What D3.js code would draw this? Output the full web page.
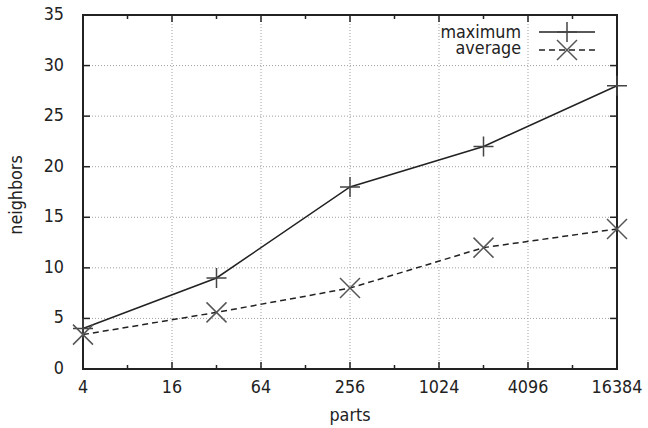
<!DOCTYPE html>
<html>
<head>
<meta charset="utf-8">
<script src="https://cdn.jsdelivr.net/npm/d3@7"></script>
<style>
  body { margin: 0; background: #fff; }
  text { font-family: "DejaVu Sans", sans-serif; font-size: 16px; fill: #222; }
</style>
</head>
<body>
<svg width="648" height="428"></svg>
<script>
// data
const parts = [4, 32, 256, 2048, 16384];
const maximum = [4, 9, 18, 22, 28];
const average = [3.4, 5.6, 8.0, 12.0, 13.85];
const xTicks = [4, 16, 64, 256, 1024, 4096, 16384];
const xMinor = [8, 32, 128, 512, 2048, 8192];
const yTicks = [0, 5, 10, 15, 20, 25, 30, 35];

const pLeft = 83, pRight = 617, pTop = 15, pBottom = 369;
const stretch = 1.14; // the reference glyphs are a bit taller than wide
const svg = d3.select("svg");

const x = d3.scaleLog().base(2).domain([4, 16384]).range([pLeft, pRight]);
const y = d3.scaleLinear().domain([0, 35]).range([pBottom, pTop]);

function label(g, tx, ty, str, anchor, rot) {
  return g.append("text")
    .attr("transform", `translate(${tx},${ty})` + (rot ? ` rotate(${rot})` : "") + ` scale(1,${stretch})`)
    .attr("text-anchor", anchor)
    .text(str);
}

// grid
const grid = svg.append("g")
  .attr("stroke", "#a0a0a0")
  .attr("stroke-dasharray", "1,2");
grid.selectAll("line.gx")
  .data(xTicks.slice(1, -1))
  .enter().append("line")
  .attr("x1", d => x(d)).attr("x2", d => x(d))
  .attr("y1", pTop).attr("y2", pBottom);
grid.selectAll("line.gy")
  .data(yTicks.slice(1, -1))
  .enter().append("line")
  .attr("y1", d => y(d)).attr("y2", d => y(d))
  .attr("x1", pLeft).attr("x2", pRight);

// tick marks, mirrored on all sides
const ticks = svg.append("g").attr("stroke", "#222").attr("stroke-width", 1.5);
xTicks.forEach(d => {
  ticks.append("line").attr("x1", x(d)).attr("x2", x(d)).attr("y1", pBottom).attr("y2", pBottom - 7);
  ticks.append("line").attr("x1", x(d)).attr("x2", x(d)).attr("y1", pTop).attr("y2", pTop + 7);
});
xMinor.forEach(d => {
  ticks.append("line").attr("x1", x(d)).attr("x2", x(d)).attr("y1", pBottom).attr("y2", pBottom - 4);
  ticks.append("line").attr("x1", x(d)).attr("x2", x(d)).attr("y1", pTop).attr("y2", pTop + 4);
});
yTicks.forEach(d => {
  ticks.append("line").attr("x1", pLeft).attr("x2", pLeft + 7).attr("y1", y(d)).attr("y2", y(d));
  ticks.append("line").attr("x1", pRight).attr("x2", pRight - 7).attr("y1", y(d)).attr("y2", y(d));
});

// border
svg.append("rect")
  .attr("x", pLeft).attr("y", pTop)
  .attr("width", pRight - pLeft).attr("height", pBottom - pTop)
  .attr("fill", "none").attr("stroke", "#222").attr("stroke-width", 2);

// tick labels
const labels = svg.append("g");
xTicks.forEach(d => label(labels, x(d), pBottom + 24, d, "middle"));
yTicks.forEach(d => label(labels, 64, y(d) + 5, d, "end"));

label(svg, (pLeft + pRight) / 2, 421, "parts", "middle");
label(svg, 22, 195, "neighbors", "middle", -90);

// lines
const line = d3.line().x((d, i) => x(parts[i])).y(d => y(d));
svg.append("path")
  .attr("d", line(maximum))
  .attr("fill", "none").attr("stroke", "#222").attr("stroke-width", 1.5);
svg.append("path")
  .attr("d", line(average))
  .attr("fill", "none").attr("stroke", "#222").attr("stroke-width", 1.5)
  .attr("stroke-dasharray", "6,4");

// markers
const m = 10;
function plus(g, cx, cy) {
  g.append("path")
    .attr("d", `M${cx - m},${cy}H${cx + m}M${cx},${cy - m}V${cy + m}`)
    .attr("stroke", "#444").attr("stroke-width", 1.5).attr("fill", "none");
}
function cross(g, cx, cy) {
  g.append("path")
    .attr("d", `M${cx - m},${cy - m}L${cx + m},${cy + m}M${cx - m},${cy + m}L${cx + m},${cy - m}`)
    .attr("stroke", "#555").attr("stroke-width", 1.5).attr("fill", "none");
}
const marks = svg.append("g");
maximum.forEach((d, i) => plus(marks, x(parts[i]), y(d)));
average.forEach((d, i) => cross(marks, x(parts[i]), y(d)));

// legend
const lg = svg.append("g");
label(lg, 521, 38, "maximum", "end");
label(lg, 521, 54, "average", "end");
lg.append("line").attr("x1", 539).attr("x2", 595).attr("y1", 32).attr("y2", 32)
  .attr("stroke", "#222").attr("stroke-width", 1.5);
lg.append("line").attr("x1", 539).attr("x2", 595).attr("y1", 50).attr("y2", 50)
  .attr("stroke", "#222").attr("stroke-width", 1.5).attr("stroke-dasharray", "6,4");
plus(lg, 567, 32);
cross(lg, 567, 50);
</script>
</body>
</html>
